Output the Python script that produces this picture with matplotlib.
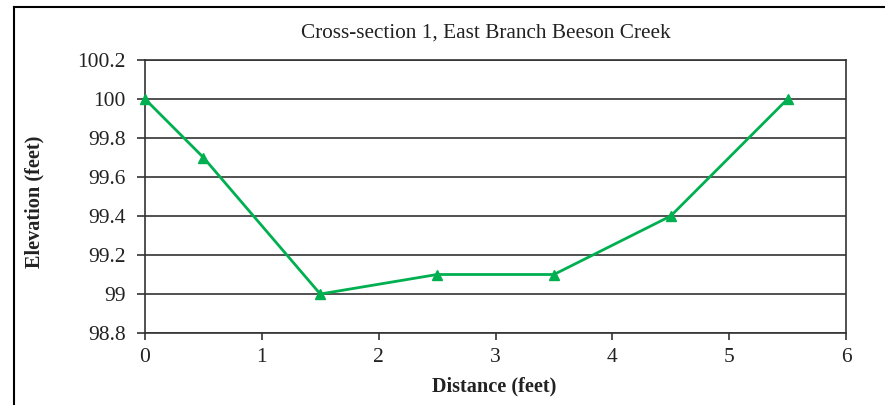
import matplotlib.pyplot as plt
from matplotlib.lines import Line2D

distance = [0, 0.5, 1.5, 2.5, 3.5, 4.5, 5.5]
elevation = [100.0, 99.7, 99.0, 99.1, 99.1, 99.4, 100.0]
x_ticks = [0, 1, 2, 3, 4, 5, 6]
y_ticks = [98.8, 99.0, 99.2, 99.4, 99.6, 99.8, 100.0, 100.2]
y_tick_labels = ["98.8", "99", "99.2", "99.4", "99.6", "99.8", "100", "100.2"]

plt.rcParams['font.family'] = ['Liberation Serif', 'DejaVu Serif']

W, H = 885, 405
fig = plt.figure(figsize=(W / 100, H / 100), dpi=100)
ax = fig.add_axes([145 / W, 1 - 333 / H, (846 - 145) / W, (333 - 60) / H])

ax.plot(distance, elevation, color='#00B050', lw=2.0, marker='^', ms=7.5,
        clip_on=False, zorder=3)

ax.set_xlim(0, 6)
ax.set_ylim(98.8, 100.2)
ax.set_xticks(x_ticks)
ax.set_yticks(y_ticks)
ax.set_yticklabels(y_tick_labels)
ax.tick_params(axis='both', labelsize=15.5, colors='#222222', width=1.1)
ax.tick_params(axis='x', length=5, pad=6)
ax.tick_params(axis='y', length=6, pad=8)
ax.grid(axis='y', color='#333333', lw=1.2)
ax.set_axisbelow(True)
for s in ['left', 'bottom', 'right', 'top']:
    ax.spines[s].set_color('#333333')
    ax.spines[s].set_linewidth(1.2)

fig.text(486 / W, 1 - 33 / H, "Cross-section 1, East Branch Beeson Creek",
         ha='center', va='center', fontsize=15.3, color='#222222')
fig.text(494 / W, 1 - 386 / H, "Distance (feet)", ha='center', va='center',
         fontsize=14.6, fontweight='bold', color='#222222')
fig.text(34 / W, 1 - 202 / H, "Elevation (feet)", ha='center', va='center',
         fontsize=14.6, fontweight='bold', rotation=90, color='#222222')

# outer chart frame (only left and top edges visible)
fig.add_artist(Line2D([13.5 / W, 13.5 / W], [0, 1 - 6.5 / H], color='black', lw=1.5))
fig.add_artist(Line2D([13.5 / W, 1], [1 - 6.5 / H, 1 - 6.5 / H], color='black', lw=1.5))

fig.savefig('out.png', dpi=100)
